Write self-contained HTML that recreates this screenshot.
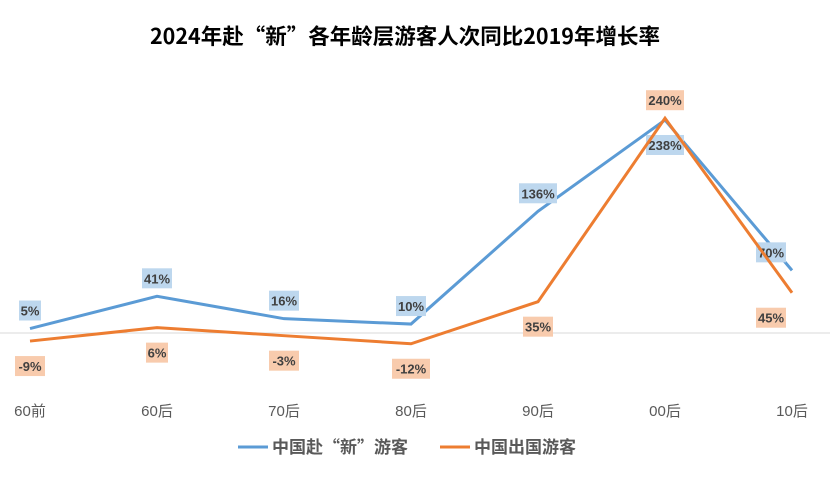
<!DOCTYPE html>
<html><head><meta charset="utf-8"><style>
body{margin:0;background:#fff;}
svg{display:block;font-family:"Liberation Sans","Noto Sans CJK SC",sans-serif;}
</style></head><body>
<svg id="chart" width="830" height="498" viewBox="0 0 830 498">
<text x="405" y="44" text-anchor="middle" font-size="21.5" font-weight="bold" fill="#000" style="font-family:'Noto Sans CJK SC',sans-serif">2024年赴“新”各年龄层游客人次同比2019年增长率</text>
<line x1="0" y1="333" x2="830" y2="333" stroke="#d9d9d9" stroke-width="1"/>
<g id="marks"></g>
<g>
<g><line x1="238" y1="447" x2="268" y2="447" stroke="#5b9bd5" stroke-width="3"/><text x="272" y="453" font-size="17" font-weight="bold" fill="#595959" style="font-family:'Noto Sans CJK SC',sans-serif">中国赴“新”游客</text></g>
<g><line x1="440" y1="447" x2="470" y2="447" stroke="#ed7d31" stroke-width="3"/><text x="474" y="453" font-size="17" font-weight="bold" fill="#595959" style="font-family:'Noto Sans CJK SC',sans-serif">中国出国游客</text></g>
</g>
</svg>
<script>
const categories=["60前","60后","70后","80后","90后","00后","10后"];
const seriesXinjiang=[5,41,16,10,136,238,70];
const seriesOutbound=[-9,6,-3,-12,35,240,45];
const seriesNames=["中国赴“新”游客","中国出国游客"];
const NS="http://www.w3.org/2000/svg";
const g=document.getElementById('marks');
function xS(i){return 30+i*127;}
function yS(v){return 333-v*0.895;}
function el(t,a){const e=document.createElementNS(NS,t);for(const k in a)e.setAttribute(k,a[k]);return e;}
categories.forEach((c,i)=>{
 const t=el('text',{x:xS(i),y:416,'text-anchor':'middle','font-size':15,fill:'#595959'});
 t.textContent=c;
 
 
 g.appendChild(t);
});
function drawSeries(vals,color,fill,above,name){
 const p=el('polyline',{points:vals.map((v,i)=>xS(i)+','+yS(v)).join(' '),fill:'none',stroke:color,'stroke-width':3,'stroke-linejoin':'miter'});
 
 
 g.appendChild(p);
 vals.forEach((v,i)=>{
  let up=above[i];
  let lx=xS(i)+(i===6?-21:0);
  let ly=up?yS(v)-18:yS(v)+25;
  const txt=v+'%';
  const w=txt.length*8+6;
  const r=el('rect',{x:lx-w/2,y:ly-10,width:w,height:20,fill:fill});
  
  
  g.appendChild(r);
  const t=el('text',{x:lx,y:ly+5,'text-anchor':'middle','font-size':13,'font-weight':'bold',fill:'#404040'});
  t.textContent=txt;
  
  
  g.appendChild(t);
 });
}
drawSeries(seriesXinjiang,'#5b9bd5','#bdd7ee',[1,1,1,1,1,0,1],'xinjiang');
drawSeries(seriesOutbound,'#ed7d31','#f8cbad',[0,0,0,0,0,1,0],'outbound');
</script>
</body></html>
